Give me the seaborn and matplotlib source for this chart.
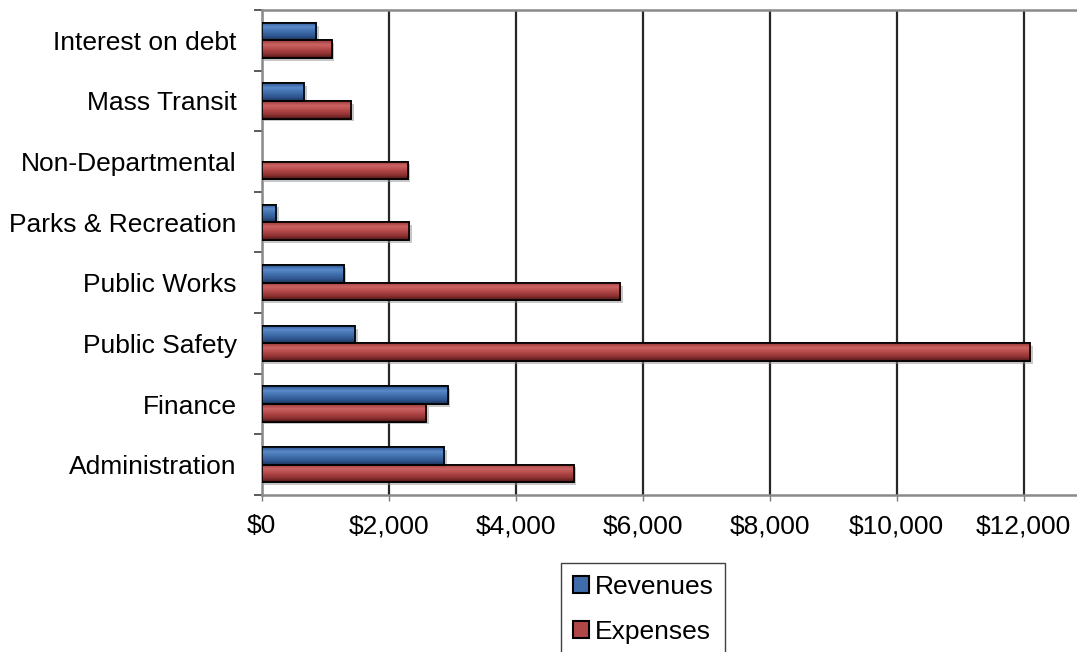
import numpy as np
import pandas as pd
import matplotlib
matplotlib.use("Agg")
import matplotlib.pyplot as plt
import matplotlib.patheffects as pe
from matplotlib.colors import LinearSegmentedColormap
from matplotlib.patches import Rectangle, Patch
from matplotlib.ticker import FuncFormatter, FixedLocator
import seaborn as sns

# Departmental revenues and expenses (thousands of dollars)
departments = ["Interest on debt", "Mass Transit", "Non-Departmental",
               "Parks & Recreation", "Public Works", "Public Safety",
               "Finance", "Administration"]
revenues = [855, 666, 0, 230, 1291, 1474, 2929, 2871]
expenses = [1102, 1406, 2299, 2320, 5647, 12099, 2592, 4913]
series_names = ["Revenues", "Expenses"]
x_ticks = [0, 2000, 4000, 6000, 8000, 10000, 12000]

df = pd.DataFrame({
    "Department": departments * 2,
    "Series": [series_names[0]] * len(departments) + [series_names[1]] * len(departments),
    "Amount": revenues + expenses,
})

sns.set_theme(style="white")
plt.rcParams["font.family"] = ["Liberation Sans", "DejaVu Sans"]
plt.rcParams["text.color"] = "black"

FS = 19
base_colors = {"Revenues": "#3f6cab", "Expenses": "#b04747"}
gradients = {
    "Revenues": ["#2d5590", "#5a8ac9", "#4270ae", "#2f5690", "#1a3256"],
    "Expenses": ["#9a3838", "#cc6464", "#b44949", "#8e3131", "#4c1616"],
}

fig = plt.figure(figsize=(10.77, 6.52), dpi=100)
ax = fig.add_axes([261.7 / 1077, 1 - 495 / 652, 889 / 1077, 485 / 652])

sns.barplot(data=df, y="Department", x="Amount", hue="Series",
            order=departments, hue_order=series_names,
            palette=base_colors, orient="h", width=0.58,
            edgecolor="black", linewidth=1.2, saturation=1,
            legend=False, ax=ax, zorder=3)

xmax = 14000
ylim = (len(departments) - 0.5, -0.5)

# Shaded fill for each bar, clipped to the bar's own outline
for patch in list(ax.patches):
    x0, y0 = patch.get_x(), patch.get_y()
    w, h = patch.get_width(), patch.get_height()
    if w <= 0:
        patch.set_visible(False)
        continue
    fc = matplotlib.colors.to_hex(patch.get_facecolor())
    key = "Revenues" if fc == base_colors["Revenues"] else "Expenses"
    cmap = LinearSegmentedColormap.from_list(
        key, list(zip([0.0, 0.25, 0.5, 0.78, 1.0], gradients[key])))
    grad = np.linspace(0, 1, 64).reshape(-1, 1)
    im = ax.imshow(grad, cmap=cmap, aspect="auto", origin="upper",
                   extent=(x0, x0 + w, y0 + h, y0), zorder=3.2,
                   interpolation="bilinear")
    im.set_clip_path(patch)
    patch.set_path_effects([pe.SimplePatchShadow(offset=(2, -2), shadow_rgbFace="#909090", alpha=0.5),
                            pe.Normal()])
    ax.add_patch(Rectangle((x0, y0), w, h, fill=False, edgecolor="black",
                           linewidth=1.2, zorder=3.4))

ax.set_xlim(0, xmax)
ax.set_ylim(*ylim)

# Axes styling
ax.set_facecolor("white")
ax.set_xlabel("")
ax.set_ylabel("")
ax.xaxis.set_major_locator(FixedLocator(x_ticks))
ax.xaxis.set_major_formatter(FuncFormatter(lambda v, _: f"${v:,.0f}"))
ax.grid(axis="x", color="#262626", linewidth=1.6)
ax.grid(axis="y", visible=False)
ax.set_axisbelow(True)

for side in ["left", "top", "bottom"]:
    ax.spines[side].set_visible(True)
    ax.spines[side].set_color("#8a8a8a")
    ax.spines[side].set_linewidth(1.8)
ax.spines["right"].set_visible(False)

ax.tick_params(axis="x", which="major", bottom=True, length=4, width=1,
               color="#7a7a7a", labelsize=FS, pad=10, labelcolor="black")
ax.tick_params(axis="y", which="major", left=False, length=0,
               labelsize=FS, pad=18, labelcolor="black")
ax.yaxis.set_minor_locator(FixedLocator(np.arange(-0.5, len(departments), 1.0)))
ax.tick_params(axis="y", which="minor", left=True, length=6, width=1.2,
               color="#404040")

handles = [Patch(facecolor=base_colors[s], edgecolor="black", linewidth=1.5)
           for s in series_names]
leg = fig.legend(handles=handles, labels=series_names, loc="upper left",
                 bbox_to_anchor=(561 / 1077, 1 - 563 / 652),
                 bbox_transform=fig.transFigure, fontsize=FS, frameon=True,
                 fancybox=False, edgecolor="#404040", framealpha=1,
                 handlelength=0.62, handleheight=0.62, handletextpad=0.2,
                 labelspacing=0.8, borderpad=0.45, borderaxespad=0,
                 labelcolor="black")
leg.get_frame().set_linewidth(1.0)

fig.savefig("out.png", dpi=100, facecolor="white")
